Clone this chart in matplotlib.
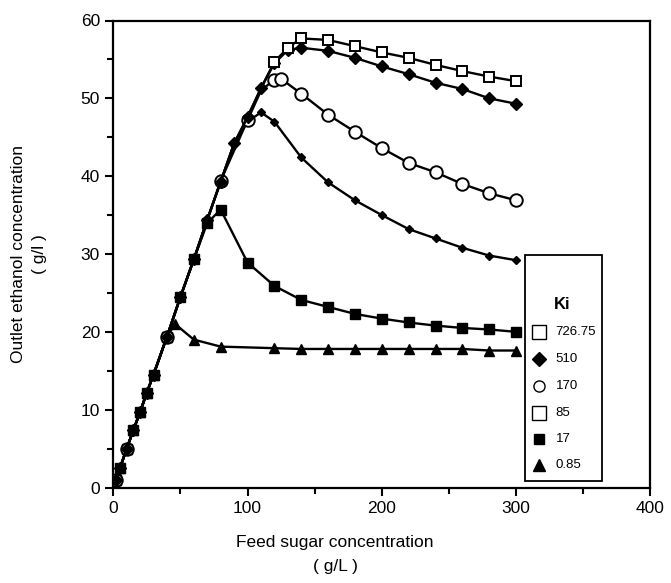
import matplotlib.pyplot as plt
from matplotlib.patches import Rectangle
from matplotlib.ticker import MultipleLocator

plt.rcParams['font.family'] = ['Liberation Sans', 'DejaVu Sans']

# values (feed sugar g/L -> outlet ethanol g/l)
x_726 = [2, 5, 10, 15, 20, 25, 30, 40, 50, 60, 70, 80, 90, 100, 110, 120, 130, 140,
         160, 180, 200, 220, 240, 260, 280, 300]
y_726 = [1.0, 2.5, 5.0, 7.4, 9.7, 12.2, 14.5, 19.4, 24.5, 29.3, 34.4, 39.3, 44.2, 47.6, 51.3, 54.7, 56.5, 57.7,
         57.5, 56.7, 55.9, 55.2, 54.3, 53.5, 52.8, 52.2]

x_510 = [2, 5, 10, 15, 20, 25, 30, 40, 50, 60, 70, 80, 90, 100, 110, 120, 130, 140,
         160, 180, 200, 220, 240, 260, 280, 300]
y_510 = [1.0, 2.5, 5.0, 7.4, 9.7, 12.2, 14.5, 19.4, 24.5, 29.3, 34.4, 39.3, 44.2, 47.6, 51.3, 54.5, 56.2, 56.5,
         56.1, 55.2, 54.1, 53.1, 52.0, 51.2, 50.0, 49.3]

x_170 = [2, 10, 40, 80, 100, 110, 120, 125, 140, 160, 180, 200, 220, 240, 260, 280, 300]
y_170 = [1.0, 5.0, 19.4, 39.4, 47.2, 51.0, 52.4, 52.5, 50.6, 47.9, 45.7, 43.6, 41.7, 40.5, 39.0, 37.8, 36.9]

x_85 = [2, 5, 10, 15, 20, 25, 30, 40, 50, 60, 70, 80, 90, 100, 110, 120, 140,
        160, 180, 200, 220, 240, 260, 280, 300]
y_85 = [1.0, 2.5, 5.0, 7.4, 9.7, 12.2, 14.5, 19.4, 24.5, 29.3, 34.4, 39.3, 44.2, 47.0, 48.2, 47.0, 42.4,
        39.2, 36.9, 35.0, 33.2, 32.0, 30.8, 29.8, 29.2]

x_17 = [2, 5, 10, 15, 20, 25, 30, 40, 50, 60, 70, 80, 100, 120, 140,
        160, 180, 200, 220, 240, 260, 280, 300]
y_17 = [1.0, 2.5, 5.0, 7.4, 9.7, 12.2, 14.5, 19.4, 24.5, 29.3, 34.0, 35.7, 28.9, 25.9, 24.1,
        23.2, 22.3, 21.7, 21.2, 20.8, 20.5, 20.3, 20.0]

x_085 = [2, 5, 10, 15, 20, 25, 30, 40, 46, 60, 80, 120, 140,
         160, 180, 200, 220, 240, 260, 280, 300]
y_085 = [1.0, 2.5, 5.0, 7.4, 9.7, 12.2, 14.5, 19.4, 21.0, 19.0, 18.1, 17.9, 17.8,
         17.8, 17.8, 17.8, 17.8, 17.8, 17.8, 17.6, 17.6]

ki_labels = ['726.75', '510', '170', '85', '17', '0.85']

fig = plt.figure(figsize=(6.71, 5.83), dpi=100)
ax = fig.add_axes([113.3 / 671, 95.5 / 583, 537.0 / 671, 467.0 / 583])

lw = 1.7
ax.plot(x_085, y_085, color='black', lw=lw, marker='^', ms=6.5, mfc='black', mec='black')
ax.plot(x_17, y_17, color='black', lw=lw, marker='s', ms=6.5, mfc='black', mec='black')
ax.plot(x_85, y_85, color='black', lw=lw, marker='D', ms=4.5, mfc='black', mec='black')
ax.plot(x_170, y_170, color='black', lw=lw, marker='o', ms=9, mfc='white', mec='black', mew=1.4,
        markevery=[0, 1, 2, 3, 4, 6, 7, 8, 9, 10, 11, 12, 13, 14, 15, 16])
ax.plot(x_510, y_510, color='black', lw=lw, marker='D', ms=6, mfc='black', mec='black')
ax.plot(x_726, y_726, color='black', lw=lw, marker='s', ms=7, mfc='white', mec='black', mew=1.4,
        markevery=list(range(15, 26)))

ax.set_xlim(0, 400)
ax.set_ylim(0, 60)
ax.xaxis.set_major_locator(MultipleLocator(100))
ax.xaxis.set_minor_locator(MultipleLocator(50))
ax.yaxis.set_major_locator(MultipleLocator(10))
ax.yaxis.set_minor_locator(MultipleLocator(5))
ax.tick_params(which='major', direction='out', length=6, width=1.5, labelsize=12.5, color='black')
ax.tick_params(which='minor', direction='out', length=4, width=1.5)
for s in ax.spines.values():
    s.set_linewidth(1.6)

ax.set_xlabel('Feed sugar concentration\n( g/L )', fontsize=12.5, x=0.413, labelpad=14, linespacing=1.75)
ax.set_ylabel('Outlet ethanol concentration\n( g/l )', fontsize=12.5, labelpad=24, linespacing=1.5)

# hand-drawn key box, as in the original figure
ax.add_patch(Rectangle((0.767, 0.014), 0.143, 0.484, transform=ax.transAxes,
                       facecolor='white', edgecolor='black', lw=1.3, zorder=5))
ax.text(0.835, 0.391, 'Ki', transform=ax.transAxes, ha='center', va='center',
        fontsize=12, fontweight='bold', zorder=6)
key_y = [0.334, 0.275, 0.217, 0.159, 0.103, 0.048]
key_style = [
    dict(marker='s', ms=10, mfc='white', mec='black', mew=1.0),
    dict(marker='D', ms=7.5, mfc='black', mec='black'),
    dict(marker='o', ms=8, mfc='white', mec='black', mew=1.0),
    dict(marker='s', ms=10, mfc='white', mec='black', mew=1.0),
    dict(marker='s', ms=7, mfc='black', mec='black'),
    dict(marker='^', ms=8, mfc='black', mec='black'),
]
for lab, yk, st in zip(ki_labels, key_y, key_style):
    ax.plot([0.793], [yk], ls='none', transform=ax.transAxes, clip_on=False, zorder=6, **st)
    ax.text(0.824, yk, lab, transform=ax.transAxes, ha='left', va='center', fontsize=9.5, zorder=6)

fig.savefig('out.png', dpi=100)
